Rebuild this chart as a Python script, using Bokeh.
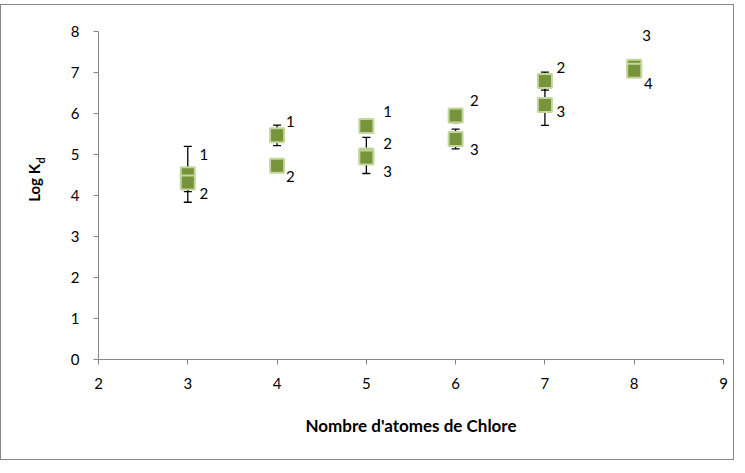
import numpy as np
from bokeh.plotting import figure
from bokeh.models import (ColumnDataSource, Whisker, TeeHead, FixedTicker,
                          Range1d, LinearAxis)
from bokeh.embed import file_html
from bokeh.resources import INLINE
from bokeh.core.properties import value

# --- data ---
chlore = [3, 3, 4, 4, 5, 5, 5, 6, 6, 7, 7, 8, 8]
log_kd = [4.51, 4.31, 5.46, 4.72, 5.69, 4.97, 4.92, 5.94, 5.37, 6.78, 6.20, 7.13, 7.03]
err = [0.68, 0.22, 0.25, 0.05, 0.05, 0.44, 0.05, 0.17, 0.24, 0.22, 0.50, 0.05, 0.05]
point_labels = ["1", "2", "1", "2", "1", "2", "3", "2", "3", "2", "3", "3", "4"]
label_x = [3.13, 3.13, 4.10, 4.10, 5.19, 5.19, 5.19, 6.16, 6.16, 7.13, 7.13, 8.09, 8.11]
label_y = [5.00, 4.05, 5.80, 4.46, 6.05, 5.27, 4.59, 6.32, 5.12, 7.12, 6.05, 7.90, 6.71]
x_ticks = [2, 3, 4, 5, 6, 7, 8, 9]
y_ticks = [0, 1, 2, 3, 4, 5, 6, 7, 8]
y_title = "Log K"
y_title_sub = "d"
y_title_pos = 4.3
y_title_sub_pos = 4.85

FONT = "Lato"
AXIS_GREY = "#868686"

src = ColumnDataSource(dict(
    x=chlore, y=log_kd,
    upper=[v + e for v, e in zip(log_kd, err)],
    lower=[v - e for v, e in zip(log_kd, err)],
))
lab_src = ColumnDataSource(dict(x=label_x, y=label_y, t=point_labels))

# y range a little above 8 so the top data label is not clipped;
# the axis itself is bounded to 0..8
p = figure(width=734, height=456,
           x_range=Range1d(2, 9), y_range=Range1d(0, 8.5),
           output_backend="svg", toolbar_location=None,
           min_border_left=97, min_border_right=12,
           min_border_top=5, min_border_bottom=102)
p.styles = {"border": "1px solid #868686", "box-sizing": "border-box",
            "margin-top": "4px"}
p.outline_line_color = None
p.xgrid.grid_line_color = None
p.ygrid.grid_line_color = None
p.background_fill_color = "white"
p.border_fill_color = "white"

for ax in (p.xaxis, p.yaxis):
    ax.axis_line_color = AXIS_GREY
    ax.major_tick_line_color = AXIS_GREY
    ax.minor_tick_line_color = None
    ax.major_tick_in = 0
    ax.major_tick_out = 5
    ax.major_label_text_font = FONT
    ax.major_label_text_font_size = "15px"
    ax.major_label_text_color = "black"

p.xaxis.ticker = FixedTicker(ticks=x_ticks)
p.yaxis.ticker = FixedTicker(ticks=y_ticks)
p.yaxis.bounds = (0, 8)
p.xaxis.major_label_standoff = 13
p.yaxis.major_label_standoff = 14

p.xaxis.axis_label = "Nombre d'atomes de Chlore"
p.xaxis.axis_label_text_font = FONT
p.xaxis.axis_label_text_font_size = "17px"
p.xaxis.axis_label_text_font_style = "bold"
p.xaxis.axis_label_text_color = "black"
p.xaxis.axis_label_standoff = 23

# y axis title "Log K_d": two extra text-only axes (subscript closer to frame)
sub_axis = LinearAxis(ticker=FixedTicker(ticks=[y_title_sub_pos]),
                      major_label_overrides={y_title_sub_pos: y_title_sub},
                      major_label_orientation="vertical",
                      major_label_text_font=FONT,
                      major_label_text_font_size="11px",
                      major_label_text_font_style="bold",
                      major_label_text_color="black",
                      major_label_standoff=20,
                      major_tick_in=0, major_tick_out=0,
                      axis_line_color=None, major_tick_line_color=None,
                      minor_tick_line_color=None)
p.add_layout(sub_axis, "left")
title_axis = LinearAxis(ticker=FixedTicker(ticks=[y_title_pos]),
                        major_label_overrides={y_title_pos: y_title},
                        major_label_orientation="vertical",
                        major_label_text_font=FONT,
                        major_label_text_font_size="15px",
                        major_label_text_font_style="bold",
                        major_label_text_color="black",
                        major_label_standoff=-12,
                        major_tick_in=0, major_tick_out=0,
                        axis_line_color=None, major_tick_line_color=None,
                        minor_tick_line_color=None)
p.add_layout(title_axis, "left")

# error bars (behind markers)
wh = Whisker(source=src, base="x", upper="upper", lower="lower",
             line_color="black", line_width=1.3,
             upper_head=TeeHead(size=8, line_color="black", line_width=1.3),
             lower_head=TeeHead(size=8, line_color="black", line_width=1.3),
             level="underlay")
p.add_layout(wh)

p.scatter("x", "y", source=src, marker="square", size=14,
          fill_color="#77933C", line_color="#C3D69B", line_width=2)

p.text("x", "y", text="t", source=lab_src, text_font=value(FONT),
       text_font_size="15px", text_color="black",
       text_align="left", text_baseline="middle")

open("out.html", "w").write(file_html(p, INLINE))
